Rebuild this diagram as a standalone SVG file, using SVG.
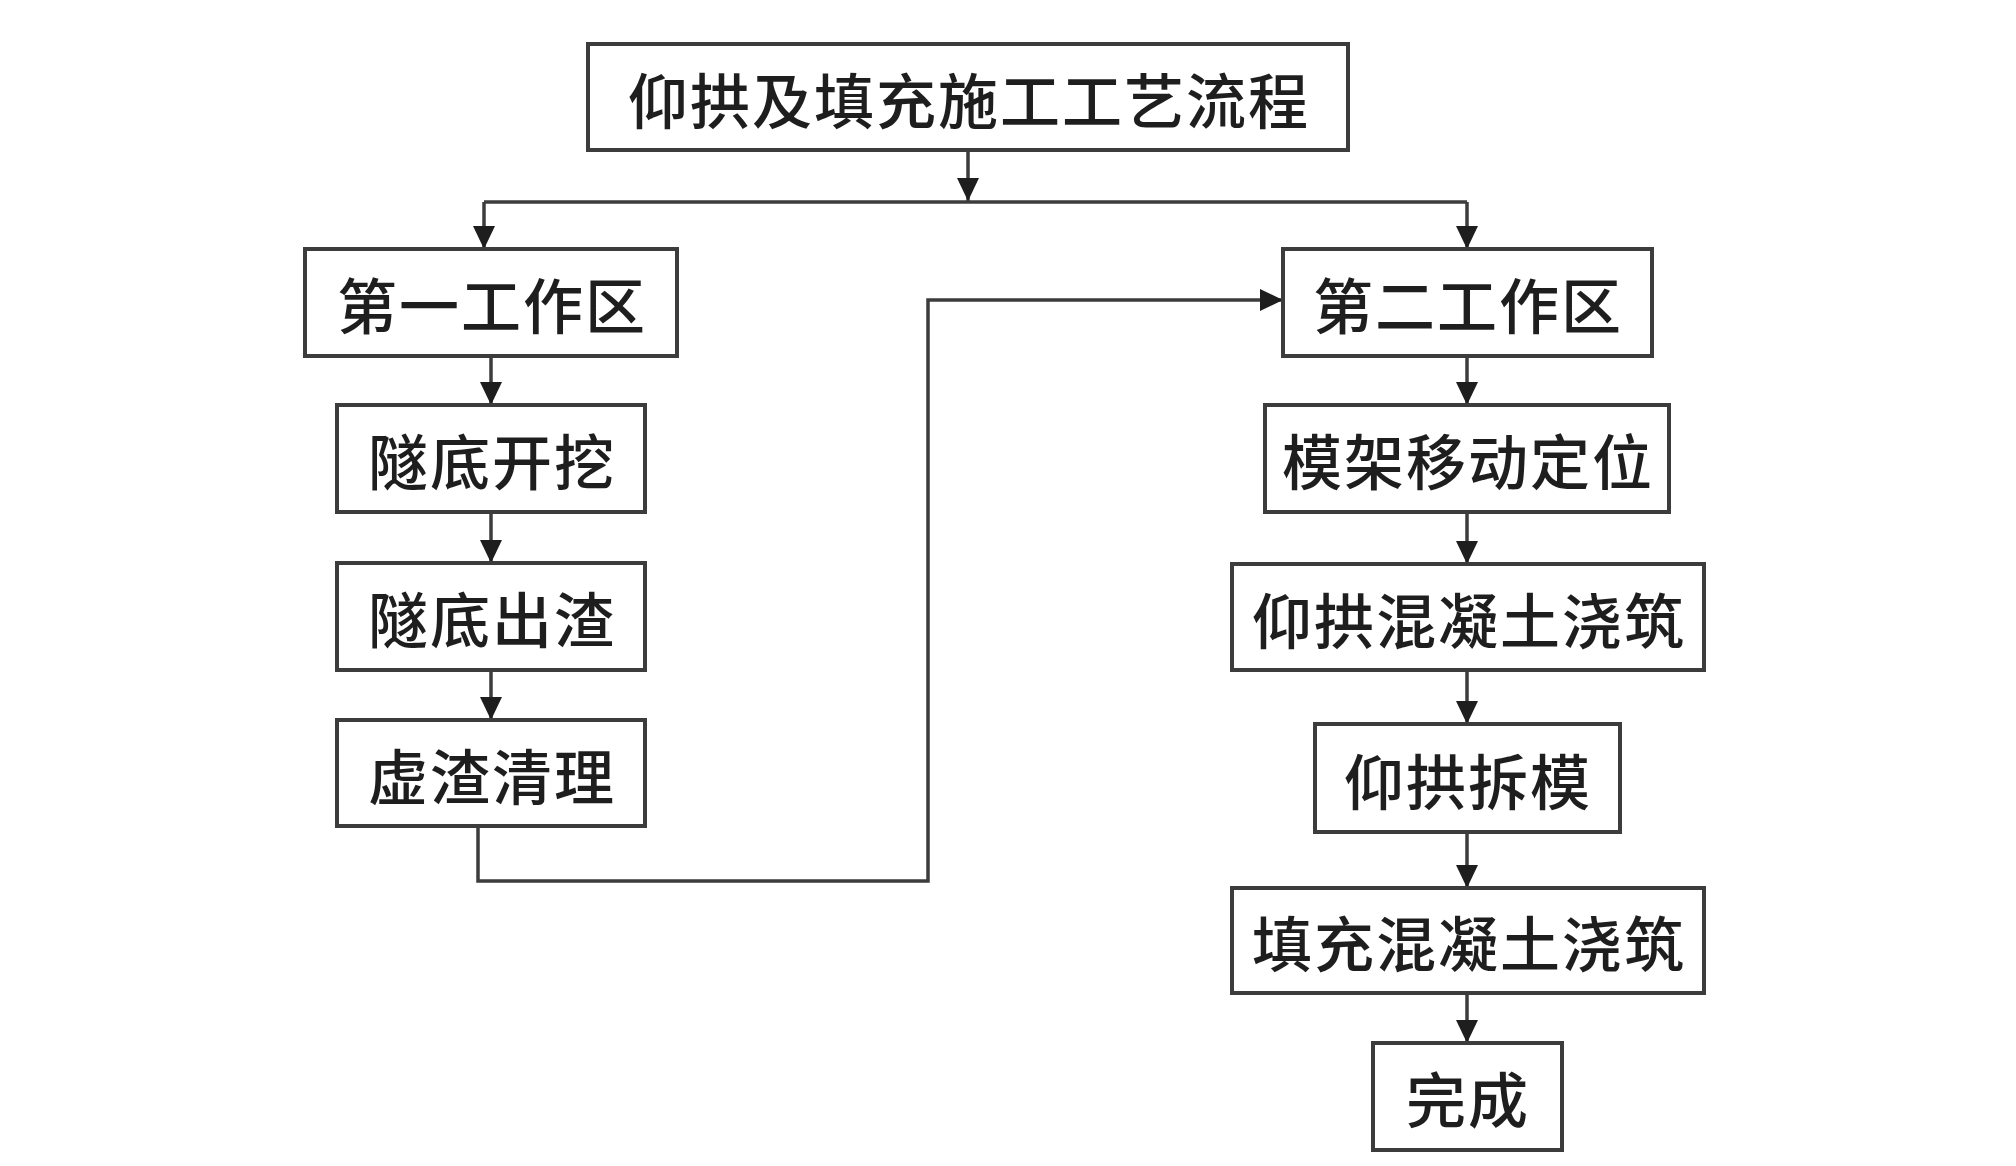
<svg xmlns="http://www.w3.org/2000/svg" width="2016" height="1166" viewBox="0 0 2016 1166">
<style>
.box{fill:#fff;stroke:#3c3c3c;stroke-width:4}
.t{font-family:"Noto Sans CJK SC","Noto Sans",sans-serif;font-size:60px;font-weight:500;fill:#1e1e1e;text-anchor:middle;dominant-baseline:central;letter-spacing:2px}
.c{fill:none;stroke:#3c3c3c;stroke-width:3.5}
</style>
<defs>
<marker id="ah" markerUnits="userSpaceOnUse" markerWidth="28" markerHeight="28" viewBox="-2 -14 28 28" refX="23" refY="0" orient="auto">
<path d="M0,-11 L23,0 L0,11 z" fill="#1e1e1e"/>
</marker>
</defs>
<rect width="2016" height="1166" fill="#fff"/>
<g id="connectors">
<path class="c" d="M968,150 V201" marker-end="url(#ah)"/>
<path class="c" d="M484,202 H1467"/>
<path class="c" d="M484,202 V249" marker-end="url(#ah)"/>
<path class="c" d="M1467,202 V249" marker-end="url(#ah)"/>
<path class="c" d="M491,356 V405" marker-end="url(#ah)"/>
<path class="c" d="M491,512 V563" marker-end="url(#ah)"/>
<path class="c" d="M491,670 V720" marker-end="url(#ah)"/>
<path class="c" d="M478,826 V881 H928 V300 H1283" marker-end="url(#ah)"/>
<path class="c" d="M1467,356 V405" marker-end="url(#ah)"/>
<path class="c" d="M1467,512 V564" marker-end="url(#ah)"/>
<path class="c" d="M1467,670 V724" marker-end="url(#ah)"/>
<path class="c" d="M1467,832 V888" marker-end="url(#ah)"/>
<path class="c" d="M1467,993 V1043" marker-end="url(#ah)"/>
</g>
<g id="title"><rect class="box" x="588" y="44" width="760" height="106"/><text class="t" x="969" y="97">仰拱及填充施工工艺流程</text></g>
<g id="zone1"><rect class="box" x="305" y="249" width="372" height="107"/><text class="t" x="492" y="302">第一工作区</text></g>
<g id="zone2"><rect class="box" x="1283" y="249" width="369" height="107"/><text class="t" x="1468" y="302">第二工作区</text></g>
<g id="l1"><rect class="box" x="337" y="405" width="308" height="107"/><text class="t" x="492" y="458">隧底开挖</text></g>
<g id="l2"><rect class="box" x="337" y="563" width="308" height="107"/><text class="t" x="492" y="616">隧底出渣</text></g>
<g id="l3"><rect class="box" x="337" y="720" width="308" height="106"/><text class="t" x="492" y="773">虚渣清理</text></g>
<g id="r1"><rect class="box" x="1265" y="405" width="404" height="107"/><text class="t" x="1468" y="458">模架移动定位</text></g>
<g id="r2"><rect class="box" x="1232" y="564" width="472" height="106"/><text class="t" x="1469" y="617">仰拱混凝土浇筑</text></g>
<g id="r3"><rect class="box" x="1315" y="724" width="305" height="108"/><text class="t" x="1468" y="778">仰拱拆模</text></g>
<g id="r4"><rect class="box" x="1232" y="888" width="472" height="105"/><text class="t" x="1469" y="940">填充混凝土浇筑</text></g>
<g id="r5"><rect class="box" x="1373" y="1043" width="189" height="107"/><text class="t" x="1468" y="1096">完成</text></g>
</svg>
